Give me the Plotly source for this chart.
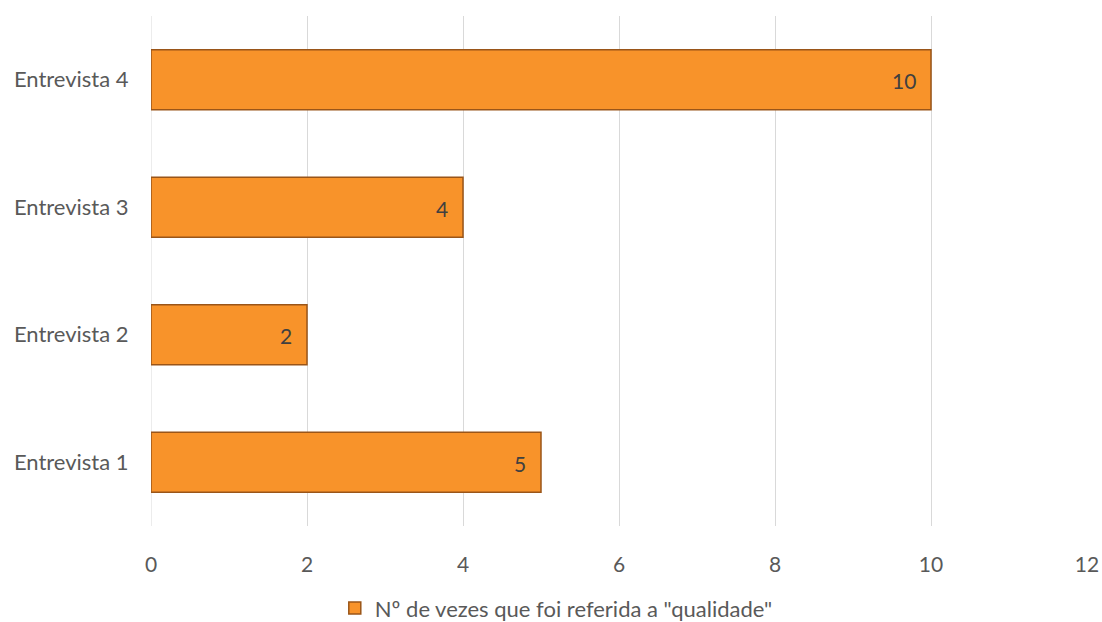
import plotly.graph_objects as go

categories = ["Entrevista 1", "Entrevista 2", "Entrevista 3", "Entrevista 4"]
values = [5, 2, 4, 10]
series_name = 'Nº de vezes que foi referida a "qualidade"'

FONT = "Lato, Open Sans, Liberation Sans"

fig = go.Figure()
fig.add_trace(go.Bar(
    y=categories, x=values, orientation="h", name=series_name,
    width=0.47,
    marker=dict(color="#F8932A", line=dict(color="#9A5518", width=1.5)),
    showlegend=True,
))
for c, v in zip(categories, values):
    fig.add_annotation(x=v, y=c, xref="x", yref="y", text=str(v), showarrow=False,
                       xanchor="right", xshift=-13, yshift=-1,
                       font=dict(family=FONT, size=21, color="#404040"))
fig.update_layout(
    width=1102, height=622,
    margin=dict(l=151, r=15, t=16, b=96, autoexpand=False),
    plot_bgcolor="white", paper_bgcolor="white",
    font=dict(family=FONT, size=21, color="#595959"),
    xaxis=dict(range=[0, 12], dtick=2, showgrid=True, gridcolor="#D9D9D9", gridwidth=1,
               zeroline=False, showline=False, ticks="outside", ticklen=20, tickcolor="white",
               tickfont=dict(size=21, color="#595959"), automargin=False),
    yaxis=dict(showgrid=False, zeroline=False, showline=False, ticks="outside", ticklen=17,
               tickcolor="white", tickfont=dict(size=22, color="#595959"), automargin=False),
    legend=dict(orientation="h", x=0.433, xanchor="center", y=0.022, yanchor="middle",
                yref="container", font=dict(size=22, color="#595959"), itemwidth=30),
    bargap=0.53,
)
fig.add_shape(type="line", xref="x", yref="paper", x0=0, x1=0, y0=0, y1=1,
              line=dict(color="#D9D9D9", width=1), layer="below")
fig.write_html("out.html")
